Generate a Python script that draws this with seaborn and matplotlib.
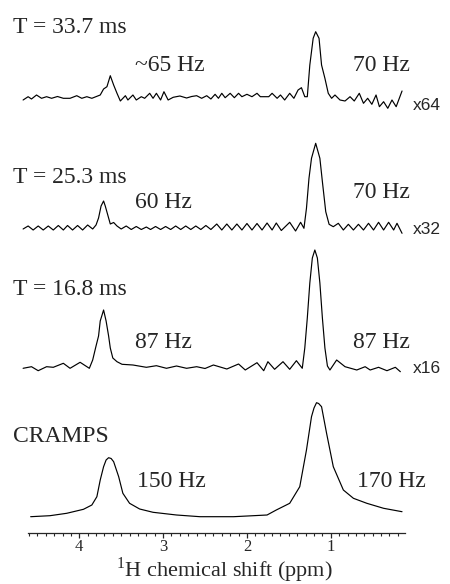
import matplotlib
matplotlib.use("Agg")
import matplotlib.pyplot as plt
import numpy as np
import pandas as pd
import seaborn as sns
from matplotlib.ticker import FixedLocator

# ---- data (ppm, intensity above each baseline) ----
t337_ppm = [4.67, 4.61, 4.57, 4.51, 4.45, 4.39, 4.33, 4.26, 4.19, 4.11, 4.03, 3.97, 3.91, 3.85,
            3.75, 3.71, 3.67, 3.63, 3.59, 3.55, 3.51, 3.45, 3.42, 3.36, 3.32, 3.26, 3.22, 3.16,
            3.12, 3.08, 3.03, 2.99, 2.94, 2.88, 2.80, 2.72, 2.66, 2.60, 2.54, 2.48, 2.43, 2.38,
            2.34, 2.30, 2.26, 2.20, 2.15, 2.10, 2.06, 2.00, 1.94, 1.88, 1.84, 1.74, 1.70, 1.64,
            1.60, 1.55, 1.49, 1.44, 1.39, 1.35, 1.31, 1.28, 1.25, 1.21, 1.18, 1.14, 1.11, 1.07,
            1.03, 0.99, 0.95, 0.89, 0.83, 0.77, 0.72, 0.66, 0.61, 0.56, 0.51, 0.46, 0.42, 0.37,
            0.32, 0.27, 0.22, 0.15]
t337_int = [-2, 1.3, -1, 3, -0.3, 1.3, -0.3, 1.5, -0.3, -0.3, 2.3, -0.3, 1.3, -0.3,
            3, 9, 11.3, 22.3, 13, 4.7, -3, 2.3, -2, 3, -2, 1.3, -0.3, 4.7,
            -0.3, 4.7, -2, 6.3, -2, 0.7, 2, 0, 1.5, 2.3, -0.3, 2.3, -1, 3.7,
            -0.3, 4.7, 0.3, 4.7, 0.3, 4.7, 1.3, 3.7, 1.3, 4.7, 1.3, 1.3, 4.7, -0.3,
            3, -2, 4.7, -0.3, 8, 10.3, 1.3, 1.3, 33, 59.7, 66.3, 59.7, 33, 19.7,
            4.7, -0.3, 3, -2, -3, 1.3, -3, 4.7, -5.3, -0.3, -6.3, 3, -8.7, -3.7,
            -10.3, -2, -8.7, 7]

t253_ppm = [4.67, 4.61, 4.55, 4.49, 4.43, 4.37, 4.31, 4.25, 4.19, 4.14, 4.08, 4.02, 3.96, 3.90,
            3.84, 3.80, 3.77, 3.74, 3.71, 3.69, 3.65, 3.63, 3.59, 3.55, 3.50, 3.44, 3.38, 3.32,
            3.26, 3.20, 3.15, 3.09, 3.03, 2.97, 2.91, 2.85, 2.79, 2.73, 2.67, 2.61, 2.55, 2.49,
            2.43, 2.36, 2.30, 2.24, 2.18, 2.12, 2.06, 2.00, 1.94, 1.88, 1.82, 1.76, 1.70, 1.65,
            1.59, 1.49, 1.42, 1.36, 1.32, 1.29, 1.26, 1.23, 1.18, 1.13, 1.10, 1.06, 1.02, 0.97,
            0.91, 0.85, 0.79, 0.73, 0.67, 0.61, 0.55, 0.49, 0.43, 0.37, 0.31, 0.25, 0.21, 0.15]
t253_int = [-1, 2, -2, 2, -2, 2, -2, 2.5, -2, 2.5, -2, 2.5, -2, 3,
            -1, 3, 10, 22, 27, 22, 10, 4, 5.5, 2, -1, 2, -1.5, 1.5,
            -1.5, 1, -1.5, 1.5, -1.5, 1.5, -1.5, 2, -1.5, 2, -1.5, 2, -1.5, 2.5,
            -1.5, 4, -2, 4, -2, 4, -2, 4.5, -2, 4.5, -2, 5, -2, 5,
            -2.5, 5.7, -3, 5.7, -0.3, 19.7, 49.7, 69.7, 84.7, 69.7, 46.3, 16.3, 3.7, 1.3,
            4.7, -2, 3.7, -2, 3.7, -2, 4.7, -2, 5.7, -2, 5.7, -2, 4.7, -5.3]

t168_ppm = [4.67, 4.57, 4.49, 4.39, 4.31, 4.19, 4.11, 3.99, 3.88, 3.84, 3.80, 3.77, 3.75, 3.71,
            3.68, 3.65, 3.63, 3.60, 3.55, 3.49, 3.36, 3.20, 3.08, 2.96, 2.84, 2.72, 2.60, 2.50,
            2.40, 2.24, 2.10, 2.02, 1.88, 1.80, 1.75, 1.67, 1.57, 1.49, 1.41, 1.34, 1.31, 1.28,
            1.25, 1.22, 1.19, 1.16, 1.13, 1.10, 1.07, 1.04, 1.01, 0.93, 0.83, 0.69, 0.59, 0.53,
            0.43, 0.33, 0.23, 0.17]
t168_int = [-0.3, 1.3, -2.7, 1.3, 0.7, 4.7, -0.3, 5.7, -0.3, 8, 22, 32, 47, 58,
            47, 32, 20, 10, 6.3, 3.7, 3, 0.7, 2.3, -0.3, 2, -0.3, 1.3, -0.5,
            3, -1, 4, -2, 5.3, -2.7, 6.3, -1.3, 6.3, -1.3, 7.3, -0.3, 20, 50,
            85, 110, 118, 110, 85, 50, 20, 2, -2, 8, 1.3, -2, 1.3, -2,
            0.7, -2.7, 0.7, -3.7]

cramps_ppm = [4.58, 4.35, 4.15, 3.95, 3.85, 3.79, 3.75, 3.71, 3.68, 3.65, 3.62, 3.59, 3.53, 3.48,
              3.40, 3.28, 3.12, 2.84, 2.56, 2.16, 1.76, 1.65, 1.49, 1.37, 1.29, 1.23, 1.20, 1.17,
              1.145, 1.11, 1.05, 0.97, 0.85, 0.73, 0.57, 0.37, 0.15]
cramps_int = [0.3, 1.3, 3.7, 7.7, 12, 20.3, 37, 50.3, 57, 59.3, 58.5, 55.3, 40.3, 23.7,
              13.7, 8, 4.7, 2, 0.3, 0.3, 2, 7, 13.7, 30.3, 67, 100.3, 109, 114.3,
              113.5, 110.3, 83.7, 50.3, 27, 18.7, 13.7, 8.7, 5.3]

trace_names = ["T = 33.7 ms", "T = 25.3 ms", "T = 16.8 ms", "CRAMPS"]
left_widths = ["~65 Hz", "60 Hz", "87 Hz", "150 Hz"]
right_widths = ["70 Hz", "70 Hz", "87 Hz", "170 Hz"]
scale_labels = ["x64", "x32", "x16", ""]
major_ticks = [4, 3, 2, 1]
tick_labels = ["4", "3", "2", "1"]

# ---- layout (not data) ----
baselines = [435, 305, 165, 16]
name_y = [500, 350, 238, 91]
left_y = [462, 325, 185, 46]
right_y = [462, 335, 185, 46]
scale_y = [423, 299, 160, None]

sns.set_style("white")
plt.rcParams["font.family"] = ["Liberation Serif", "DejaVu Serif"]
plt.rcParams["mathtext.fontset"] = "custom"
plt.rcParams["mathtext.rm"] = "Liberation Serif"

fig = plt.figure(figsize=(4.5, 5.84), dpi=100)
ax = fig.add_axes([20 / 450, 51 / 584, 390 / 450, 533 / 584])

frames = []
for name, xs, ys, base in zip(trace_names,
                              [t337_ppm, t253_ppm, t168_ppm, cramps_ppm],
                              [t337_int, t253_int, t168_int, cramps_int],
                              baselines):
    frames.append(pd.DataFrame({"ppm": xs, "y": np.array(ys) + base, "trace": name}))
df = pd.concat(frames, ignore_index=True)

sns.lineplot(data=df, x="ppm", y="y", units="trace", estimator=None, sort=False,
             color="black", lw=0.85, ax=ax, legend=False,
             solid_joinstyle="round", solid_capstyle="round")

ax.set_xlim(4.707, 0.055)
ax.set_ylim(0, 533)
for s in ["top", "left", "right"]:
    ax.spines[s].set_visible(False)
ax.spines["bottom"].set_bounds(4.61, 0.11)
ax.spines["bottom"].set_linewidth(0.9)
ax.set_yticks([])
ax.set_ylabel("")
ax.set_xlabel("")
ax.xaxis.set_major_locator(FixedLocator(major_ticks))
ax.set_xticklabels(tick_labels)
ax.xaxis.set_minor_locator(FixedLocator([round(4.6 - 0.1 * i, 1) for i in range(45)]))
ax.tick_params(axis="x", which="major", direction="out", length=3.6, width=0.9,
               pad=1.0, labelsize=12, bottom=True)
ax.tick_params(axis="x", which="minor", direction="out", length=2.0, width=0.8, bottom=True)

fs = 17
for i in range(4):
    ax.text(4.79, name_y[i], trace_names[i], fontsize=fs, va="baseline", ha="left")
    ax.text(3.335 if i < 3 else 3.31, left_y[i], left_widths[i], fontsize=fs,
            va="baseline", ha="left")
    ax.text(0.735 if i < 3 else 0.69, right_y[i], right_widths[i], fontsize=fs,
            va="baseline", ha="left")
    if scale_labels[i]:
        ax.text(0.02, scale_y[i], scale_labels[i], fontsize=12.5, va="baseline", ha="left",
                family=["Liberation Sans", "DejaVu Sans"])

fig.text(224.5 / 450, 7.5 / 584, r"$^{\mathrm{1}}$H chemical shift (ppm)", fontsize=16,
         ha="center", va="baseline")

fig.savefig("out.png", dpi=100)
